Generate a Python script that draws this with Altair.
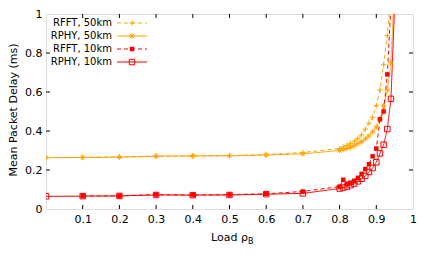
import altair as alt
import pandas as pd

FONT = "DejaVu Sans"
SERIES = ["RFFT, 50km", "RPHY, 50km", "RFFT, 10km", "RPHY, 10km"]
COLORS = ["#ffa500", "#ffa500", "#ff0000", "#ff0000"]
DASHES = [[4, 3], [1, 0], [4, 3], [1, 0]]

# Loads (x) and mean packet delays (ms)
x_rfft = [0.1, 0.2, 0.3, 0.4, 0.5, 0.6, 0.7, 0.8, 0.81, 0.82, 0.83, 0.84, 0.85,
          0.86, 0.87, 0.88, 0.89, 0.9, 0.91, 0.92, 0.93, 0.94]
rfft_50 = [0.265, 0.267, 0.272, 0.273, 0.274, 0.279, 0.29, 0.31, 0.318, 0.326,
           0.336, 0.348, 0.362, 0.38, 0.41, 0.44, 0.47, 0.53, 0.61, 0.74, 0.89, 1.1]
rfft_10 = [0.067, 0.068, 0.074, 0.072, 0.074, 0.078, 0.09, 0.115, 0.15, 0.13,
           0.135, 0.145, 0.16, 0.18, 0.205, 0.23, 0.27, 0.31, 0.46, 0.50, 0.69, 1.05]

x_rphy = [0.0, 0.1, 0.2, 0.3, 0.4, 0.5, 0.6, 0.7, 0.8, 0.81, 0.82, 0.83, 0.84,
          0.85, 0.86, 0.87, 0.88, 0.89, 0.9, 0.91, 0.92, 0.93, 0.94, 0.95]
rphy_50 = [0.263, 0.264, 0.266, 0.27, 0.272, 0.273, 0.277, 0.283, 0.30, 0.305,
           0.31, 0.317, 0.325, 0.335, 0.345, 0.36, 0.375, 0.395, 0.42, 0.46,
           0.53, 0.61, 0.75, 1.17]
rphy_10 = [0.065, 0.066, 0.067, 0.072, 0.071, 0.072, 0.076, 0.08, 0.105, 0.11,
           0.115, 0.122, 0.13, 0.142, 0.155, 0.17, 0.19, 0.21, 0.24, 0.285,
           0.33, 0.41, 0.565, 1.05]

x_ticks = [0.1, 0.2, 0.3, 0.4, 0.5, 0.6, 0.7, 0.8, 0.9, 1.0]
y_ticks = [0.0, 0.2, 0.4, 0.6, 0.8, 1.0]

rows = []
for name, xs_, ys_ in [(SERIES[0], x_rfft, rfft_50), (SERIES[1], x_rphy, rphy_50),
                       (SERIES[2], x_rfft, rfft_10), (SERIES[3], x_rphy, rphy_10)]:
    for a, b in zip(xs_, ys_):
        rows.append({"series": name, "load": a, "delay": b})
df = pd.DataFrame(rows)

W, H = 367, 195
PLUS = "M-1,0L1,0M0,-1L0,1"
STAR = "M-1,0L1,0M0,-1L0,1M-0.7,-0.7L0.7,0.7M-0.7,0.7L0.7,-0.7"

xs = alt.Scale(domain=[0, 1], nice=False, zero=False)
ys = alt.Scale(domain=[0, 1], nice=False, zero=False)
xaxis = alt.Axis(values=x_ticks, labelExpr="'' + datum.value", ticks=False, tickSize=0,
                 domain=False, grid=False, labelPadding=4, title=None, labelFont=FONT,
                 labelFontSize=11, labelColor="black", labelFlush=False, labelOverlap=False)
yaxis = alt.Axis(values=y_ticks, labelExpr="'' + datum.value", ticks=False, tickSize=0,
                 domain=False, grid=False, labelPadding=4, title=None, labelFont=FONT,
                 labelFontSize=11, labelColor="black", labelFlush=False, labelOverlap=False)

cs = alt.Scale(domain=SERIES, range=COLORS)
X = alt.X("load:Q", scale=xs, axis=xaxis)
Y = alt.Y("delay:Q", scale=ys, axis=yaxis)

base = alt.Chart(df)
lines = base.mark_line(strokeWidth=1, clip=True).encode(
    x=X, y=Y,
    color=alt.Color("series:N", scale=cs, legend=None),
    strokeDash=alt.StrokeDash("series:N", scale=alt.Scale(domain=SERIES, range=DASHES), legend=None),
)
pts = base.transform_filter(alt.datum.series != SERIES[2]).mark_point(
    filled=False, strokeWidth=1, size=30, clip=True, opacity=1
).encode(
    x=X, y=Y,
    color=alt.Color("series:N", scale=cs, legend=None),
    shape=alt.Shape("series:N", scale=alt.Scale(domain=[SERIES[0], SERIES[1], SERIES[3]],
                                                 range=[PLUS, STAR, "square"]), legend=None),
)
filled_pts = base.transform_filter(alt.datum.series == SERIES[2]).mark_square(
    size=20, clip=True, opacity=1, color=COLORS[2]
).encode(x=X, y=Y)

# inward ticks on all four sides
xt = alt.Chart(pd.DataFrame({"load": x_ticks[:-1]}))
yt = alt.Chart(pd.DataFrame({"delay": y_ticks[1:-1]}))
tick_layers = [
    xt.mark_rule(color="black", strokeWidth=1).encode(x=X, y=alt.value(H), y2=alt.value(H - 4)),
    xt.mark_rule(color="black", strokeWidth=1).encode(x=X, y=alt.value(0), y2=alt.value(4)),
    yt.mark_rule(color="black", strokeWidth=1).encode(y=Y, x=alt.value(0), x2=alt.value(4)),
    yt.mark_rule(color="black", strokeWidth=1).encode(y=Y, x=alt.value(W), x2=alt.value(W - 4)),
]

# legend (top-left, inside plot)
one = alt.Chart(pd.DataFrame({"k": [0]}))
legend_layers = []
for i, name in enumerate(SERIES):
    yy = 9 + 13 * i
    legend_layers.append(one.mark_text(text=name, align="right", baseline="middle", font=FONT,
                                       fontSize=10, color="black").encode(x=alt.value(66), y=alt.value(yy)))
    legend_layers.append(one.mark_rule(color=COLORS[i], strokeWidth=1, strokeDash=DASHES[i]).encode(
        x=alt.value(71), x2=alt.value(101), y=alt.value(yy)))
    if i == 2:
        legend_layers.append(one.mark_square(size=20, opacity=1, color=COLORS[i]).encode(
            x=alt.value(86), y=alt.value(yy)))
    else:
        shp = {0: PLUS, 1: STAR, 3: "square"}[i]
        legend_layers.append(one.mark_point(shape=shp, filled=False, size=30, strokeWidth=1, opacity=1,
                                            color=COLORS[i]).encode(x=alt.value(86), y=alt.value(yy)))

titles = [
    one.mark_text(text="Load ρ", align="left", baseline="middle", font=FONT, fontSize=11,
                  color="black").encode(x=alt.value(165), y=alt.value(224)),
    one.mark_text(text="B", align="left", baseline="middle", font=FONT, fontSize=8,
                  color="black").encode(x=alt.value(202), y=alt.value(228)),
    one.mark_text(text="Mean Packet Delay (ms)", angle=270, align="center", baseline="middle",
                  font=FONT, fontSize=11, color="black").encode(x=alt.value(-32), y=alt.value(96)),
]

chart = alt.layer(lines, pts, filled_pts, *tick_layers, *legend_layers, *titles).properties(
    width=W, height=H,
    padding={"left": 38, "top": 6, "right": 8, "bottom": 40},
    autosize=alt.AutoSizeParams(type="none"),
).configure_view(stroke="black", strokeWidth=1).configure(background="white")

chart.save("out.html", embed_options={"renderer": "svg", "actions": False})
